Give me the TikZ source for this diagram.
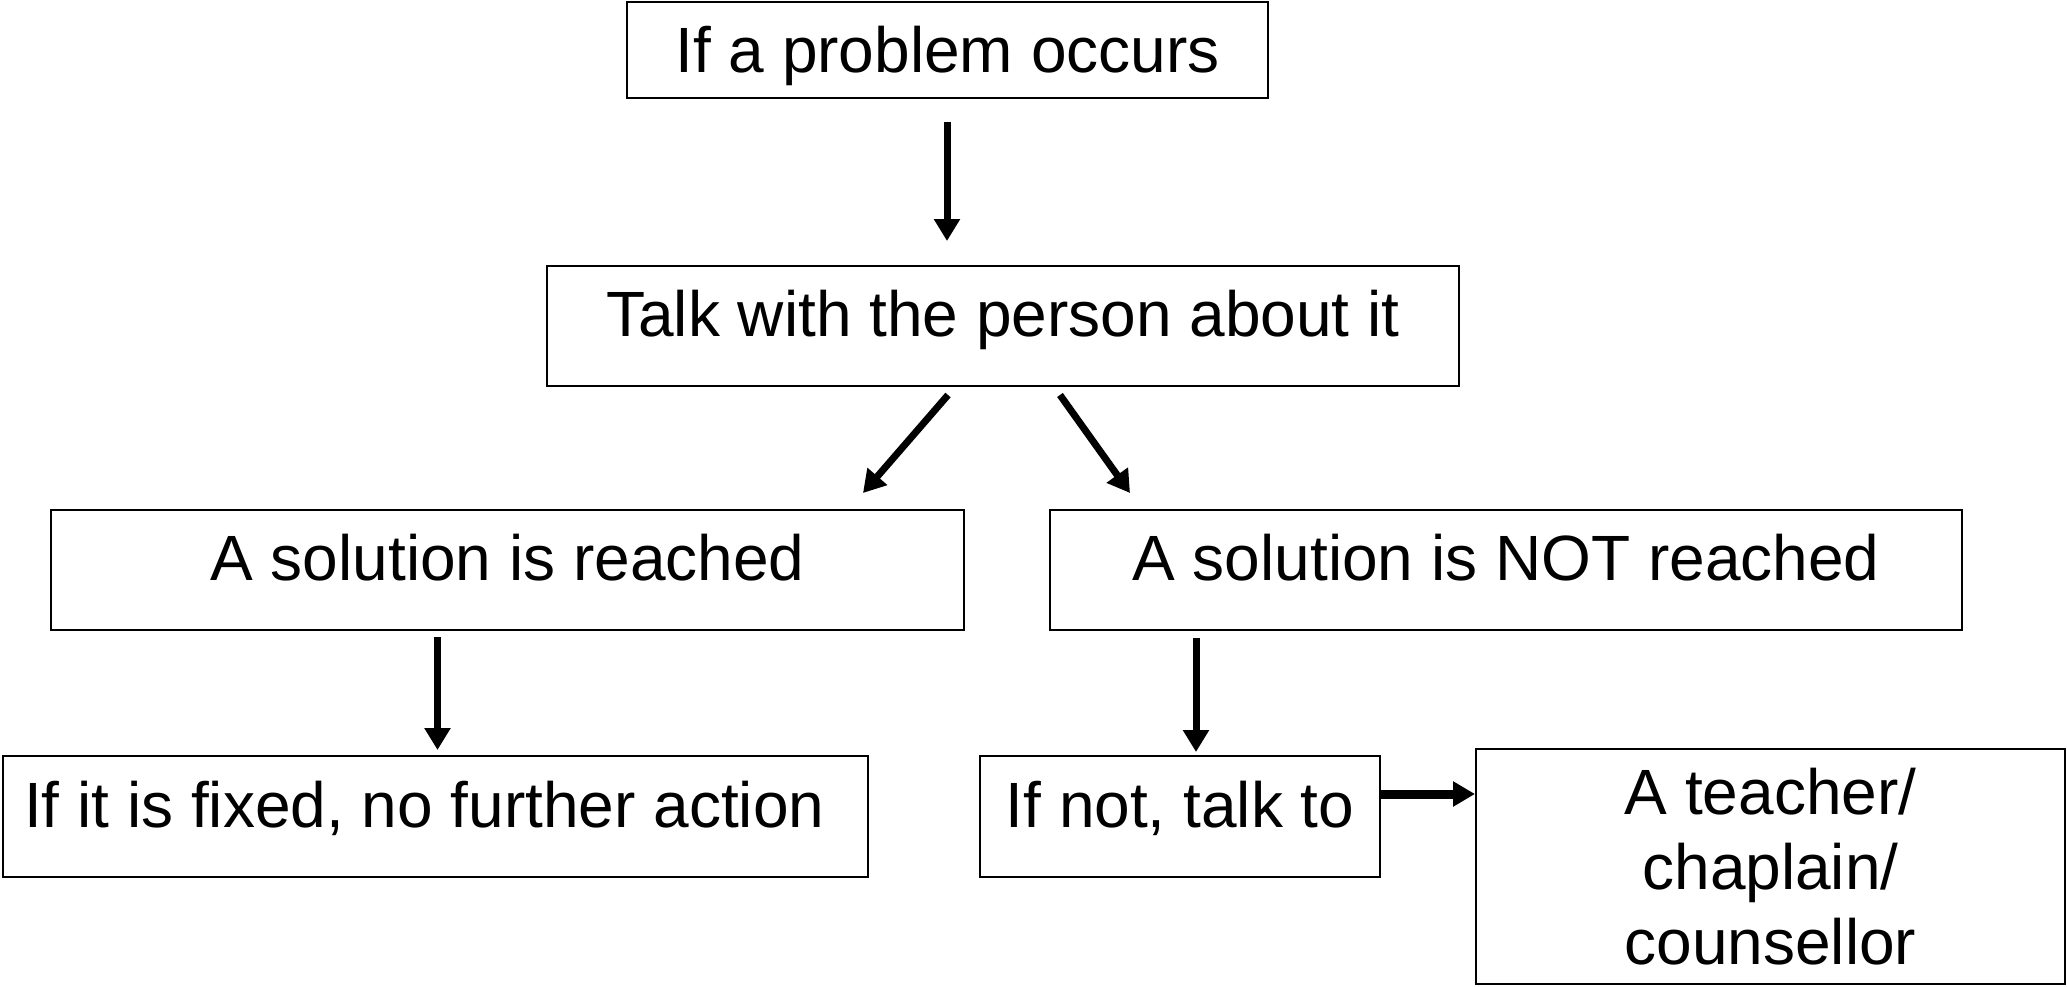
\documentclass[tikz,border=0pt]{standalone}
\usepackage{fontspec}
\setmainfont{Liberation Sans}
\usetikzlibrary{arrows.meta}
\begin{document}
\begin{tikzpicture}[x=1pt,y=-1pt,
  box/.style={draw=black,line width=2pt,rectangle,inner sep=0pt,
    font=\fontsize{64}{75}\selectfont,text height=46pt,text depth=25pt},
  flow/.style={line width=7pt,-{Triangle[length=22pt,width=25pt]}},
  flowthick/.style={line width=9pt,-{Triangle[length=22pt,width=24pt]}}]
\useasboundingbox (0,0) rectangle (2067,986);
\fill[white] (0,0) rectangle (2067,986);
\node[box,minimum width=641pt,minimum height=96pt,text depth=2pt] (b1) at (947.5,50) {If a problem occurs};
\node[box,minimum width=912pt,minimum height=120pt] (b2) at (1003,326) {Talk with the person about it};
\node[box,minimum width=913pt,minimum height=120pt] (b3) at (507.5,570) {A solution is reached};
\node[box,minimum width=912pt,minimum height=120pt] (b4) at (1506,570) {A solution is NOT reached};
\node[box,minimum width=865pt,minimum height=121pt,inner xsep=21pt] (b5) at (435.5,816.5) {\makebox[823pt][l]{If it is fixed, no further action}};
\node[box,minimum width=400pt,minimum height=121pt] (b6) at (1180,816.5) {If not, talk to};
\node[box,minimum width=589pt,minimum height=235pt,align=center,text height=,text depth=] (b7) at (1770.5,866.5) {A teacher/\\chaplain/\\counsellor};
\coordinate (s1) at (947,122);  \coordinate (e1) at (947,241);
\coordinate (s2) at (948,395);  \coordinate (e2) at (863,493);
\coordinate (s3) at (1060,395); \coordinate (e3) at (1130,493);
\coordinate (s4) at (437.5,637); \coordinate (e4) at (437.5,750);
\coordinate (s5) at (1196,638); \coordinate (e5) at (1196,752);
\coordinate (s6) at (1380,794);
\draw[flow] (s1) -- (e1);
\draw[flow] (s2) -- (e2);
\draw[flow] (s3) -- (e3);
\draw[flow] (s4) -- (e4);
\draw[flow] (s5) -- (e5);
\draw[flowthick] (s6) -- (s6 -| b7.west);
\end{tikzpicture}
\end{document}
